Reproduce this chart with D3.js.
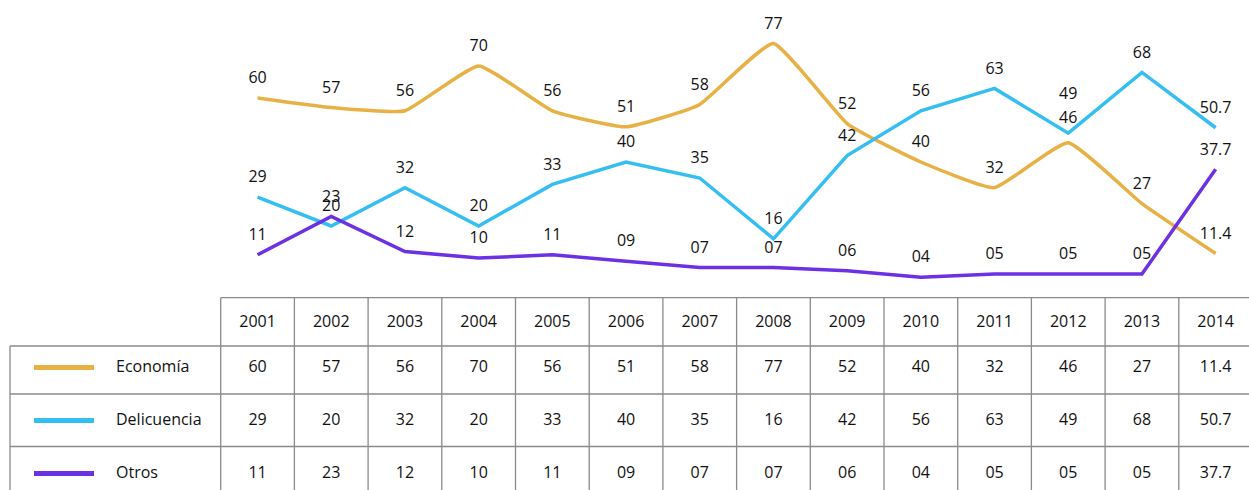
<!DOCTYPE html>
<html>
<head>
<meta charset="utf-8">
<script src="https://cdn.jsdelivr.net/npm/d3@7"></script>
<style>
  body { margin: 0; background: #fff; }
  text { font-family: "Open Sans", sans-serif; font-size: 16px; fill: #111; }
</style>
</head>
<body>
<svg id="chart" width="1249" height="490"></svg>
<script>
// data
var years = ["2001","2002","2003","2004","2005","2006","2007","2008","2009","2010","2011","2012","2013","2014"];
var seriesNames = ["Economía", "Delicuencia", "Otros"];
var economia    = [60, 57, 56, 70, 56, 51, 58, 77, 52, 40, 32, 46, 27, 11.4];
var delicuencia = [29, 20, 32, 20, 33, 40, 35, 16, 42, 56, 63, 49, 68, 50.7];
var otros       = [11, 23, 12, 10, 11, 9, 7, 7, 6, 4, 5, 5, 5, 37.7];
// labels as shown (leading zeros kept)
var otrosLabels = ["11","23","12","10","11","09","07","07","06","04","05","05","05","37.7"];

var colors = ["#E7B145", "#35BEF1", "#6C31E2"];

var series = [
  {name: seriesNames[0], values: economia, labels: economia.map(String), color: colors[0], curve: d3.curveCardinal.tension(0.6)},
  {name: seriesNames[1], values: delicuencia, labels: delicuencia.map(String), color: colors[1], curve: d3.curveLinear},
  {name: seriesNames[2], values: otros, labels: otrosLabels, color: colors[2], curve: d3.curveLinear}
];

// labels that excel pushed apart where they collide
var labelNudge = {"Delicuencia|2012": -19, "Economía|2012": -5};

var svg = d3.select("#chart");

var tableLeft = 220.7, colW = 73.7;
var x = d3.scaleBand()
  .domain(years)
  .range([tableLeft, tableLeft + colW * years.length]);

var y = d3.scaleLinear()
  .domain([0, 80])
  .range([290, 34]);

// lines
series.forEach(function(s) {
  var line = d3.line()
    .x(function(d, i) { return x(years[i]) + x.bandwidth() / 2; })
    .y(function(d) { return y(d); })
    .curve(s.curve);

  svg.append("path")
    .datum(s.values)
    .attr("fill", "none")
    .attr("stroke", s.color)
    .attr("stroke-width", 3.5)
    .attr("stroke-linejoin", "miter")
    .attr("d", line);
});

// data labels
series.forEach(function(s) {
  svg.append("g").selectAll("text")
    .data(s.values)
    .enter().append("text")
    .attr("x", function(d, i) { return x(years[i]) + x.bandwidth() / 2; })
    .attr("y", function(d, i) { return y(d) - 19 + (labelNudge[s.name + "|" + years[i]] || 0); })
    .attr("text-anchor", "middle")
    .attr("dominant-baseline", "middle")
    .text(function(d, i) { return s.labels[i]; });
});

// data table
var rowY = [297.7, 346, 394, 446.5, 500]; // header, rows
var grid = svg.append("g")
  .attr("stroke", "#8a8a8a")
  .attr("stroke-width", 1.3)
  .attr("fill", "none");

// header row
grid.append("line")
  .attr("x1", tableLeft).attr("x2", 1260)
  .attr("y1", rowY[0]).attr("y2", rowY[0]);
for (var r = 1; r < rowY.length - 1; r++) {
  grid.append("line")
    .attr("x1", 10).attr("x2", 1260)
    .attr("y1", rowY[r]).attr("y2", rowY[r]);
}
// verticals
grid.append("line")
  .attr("x1", 10).attr("x2", 10)
  .attr("y1", rowY[1]).attr("y2", rowY[4]);
years.forEach(function(yr) {
  grid.append("line")
    .attr("x1", x(yr)).attr("x2", x(yr))
    .attr("y1", rowY[0]).attr("y2", rowY[4]);
});

// header years
svg.append("g").selectAll("text")
  .data(years)
  .enter().append("text")
  .attr("x", function(d) { return x(d) + x.bandwidth() / 2; })
  .attr("y", 322.5)
  .attr("text-anchor", "middle")
  .attr("dominant-baseline", "middle")
  .text(function(d) { return d; });

var rowCenters = [367.5, 420.5, 473.5];
series.forEach(function(s, k) {
  var cy = rowCenters[k];
  // legend key
  svg.append("line")
    .attr("x1", 34).attr("x2", 94)
    .attr("y1", cy).attr("y2", cy)
    .attr("stroke", s.color)
    .attr("stroke-width", 5);
  svg.append("text")
    .attr("x", 116)
    .attr("y", cy)
    .attr("dominant-baseline", "middle")
    .text(s.name);

  svg.append("g").selectAll("text")
    .data(s.values)
    .enter().append("text")
    .attr("x", function(d, i) { return x(years[i]) + x.bandwidth() / 2; })
    .attr("y", cy)
    .attr("text-anchor", "middle")
    .attr("dominant-baseline", "middle")
    .text(function(d, i) { return s.labels[i]; });
});
</script>
</body>
</html>
